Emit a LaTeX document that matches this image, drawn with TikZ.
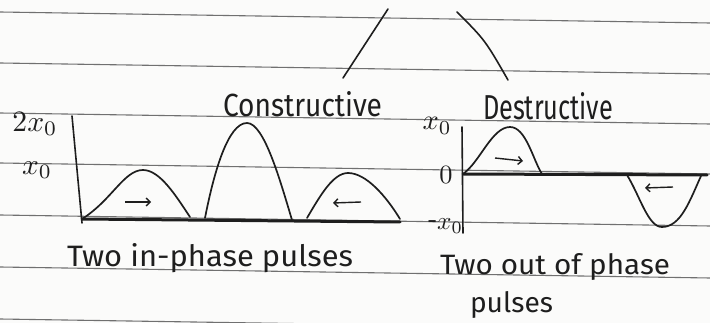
\documentclass[tikz,border=0pt]{standalone}
\usepackage{fontspec}
\setmainfont{Fira Sans}
\usetikzlibrary{arrows.meta}
\definecolor{ink}{HTML}{1E1E1E}
\definecolor{rule}{HTML}{707070}
\definecolor{paper}{HTML}{FBFBFA}
\tikzset{
  ruled/.style={draw=rule, line width=1.1pt},
  inkline/.style={draw=ink, line width=1.6pt, line cap=round, line join=round},
  baseln/.style={draw=ink, line width=3pt, line cap=round},
  pulse/.style={draw=ink, line width=1.7pt, line cap=round},
  dirarrow/.style={draw=ink, line width=1.4pt, -{Straight Barb[length=4pt,width=8pt]}},
  hand/.style={inner sep=0pt, outer sep=0pt, text=ink, anchor=base west},
  lab/.style={inner sep=0pt, text=ink}
}
\begin{document}
\begin{tikzpicture}[x=1pt,y=-1pt]
\fill[paper] (0,0) rectangle (710,323);
\useasboundingbox (0,0) rectangle (710,323);
\begin{scope}
\clip (0,0) rectangle (710,323);
\foreach \y in {12,63,113,163,215,267,319}
  \draw[ruled] (0,\y) -- (710,\y+11);
\end{scope}

% top lines
\coordinate (t1a) at (388,9);
\coordinate (t1b) at (343,78);
\coordinate (t2a) at (457,12);
\coordinate (t2b) at (508,80);
\draw[inkline] (t1a) -- (t1b);
\draw[inkline] (t2a) .. controls (485,40) .. (t2b);

% headings
\node[hand] (cons) at (223,117) {\resizebox{159pt}{25pt}{Constructive}};
\node[hand] (dest) at (483,120) {\resizebox{130pt}{27pt}{Destructive}};

% left panel axes
\coordinate (lax) at (72,116);
\coordinate (lo) at (82,219);
\coordinate (lend) at (400,222);
\draw[inkline] (lax) -- (82,223);
\draw[baseln] (lo) -- (lend);
\node[lab] (l2x) at (35,124) {\resizebox{45pt}{!}{$2x_0$}};
\node[lab] (lx) at (37,170) {\resizebox{30pt}{!}{$x_0$}};

% left pulses
\draw[pulse] (lo) .. controls (112,200) and (124,170) .. (143,170)
  .. controls (160,170) and (176,196) .. (190,217);
\draw[pulse] (205,218) .. controls (214,172) and (228,123) .. (247,123)
  .. controls (264,123) and (280,180) .. (292,220);
\draw[pulse] (307,218) .. controls (320,196) and (333,173) .. (348,173)
  .. controls (366,173) and (386,196) .. (400,219);
\coordinate (a1s) at (125,202); \coordinate (a1e) at (151,202);
\coordinate (a2s) at (361,202); \coordinate (a2e) at (333,203);
\draw[dirarrow] (a1s) -- (a1e);
\draw[dirarrow] (a2s) -- (a2e);

% right panel
\coordinate (rax) at (462,127);
\coordinate (ro) at (463,174);
\coordinate (rend) at (707,175);
\draw[inkline] (rax) -- (463,233);
\draw[baseln] (ro) -- (rend);
\node[lab] (rx) at (437,126) {\resizebox{29pt}{!}{$x_0$}};
\node[lab] (r0) at (446,175) {\resizebox{!}{17pt}{$0$}};
\node[lab] (rmx) at (445,226) {\resizebox{36pt}{!}{\mbox{-}$x_0$}};

\draw[pulse] (ro) .. controls (480,162) and (492,127) .. (510,127)
  .. controls (526,127) and (533,160) .. (542,174);
\draw[pulse] (627,175) .. controls (640,196) and (648,227) .. (662,227)
  .. controls (681,227) and (690,200) .. (701,176);
\coordinate (a3s) at (495,158); \coordinate (a3e) at (523,161);
\coordinate (a4s) at (673,187); \coordinate (a4e) at (645,188);
\draw[dirarrow] (a3s) -- (a3e);
\draw[dirarrow] (a4s) -- (a4e);

% captions
\node[hand] (cap1) at (67,266) {\resizebox{286pt}{23pt}{Two in-phase pulses}};
\node[hand] (cap2) at (440,275) {\resizebox{230pt}{21pt}{Two out of phase}};
\node[hand] (cap3) at (470,313) {\resizebox{83pt}{21pt}{pulses}};
\end{tikzpicture}
\end{document}
